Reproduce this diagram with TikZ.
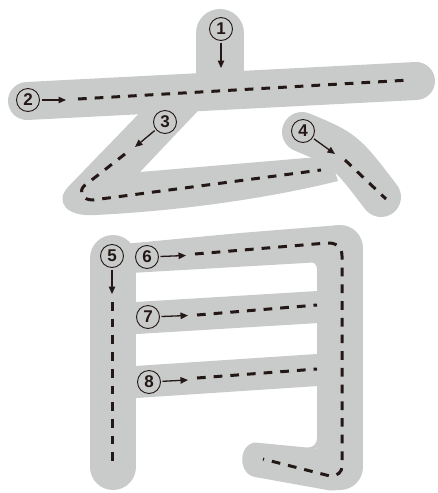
\documentclass[tikz,border=0pt]{standalone}
\usepackage{fontspec}
\newfontfamily\numfont{Liberation Sans}
\usetikzlibrary{arrows.meta}
\definecolor{brushgray}{RGB}{201,202,202}
\definecolor{inkdark}{RGB}{35,24,21}
\begin{document}
\begin{tikzpicture}[x=1pt,y=-1pt,
  band/.style={draw=brushgray, line cap=round},
  flatband/.style={draw=brushgray, line cap=butt},
  guide/.style={draw=inkdark, line width=3pt, dash pattern=on 8.7pt off 8pt},
  numc/.style={circle, draw=inkdark, line width=0.9pt, minimum size=23pt, inner sep=0pt, outer sep=0pt,
    font=\numfont\bfseries\fontsize{17}{17}\selectfont, text=inkdark},
  arr/.style={draw=inkdark, line width=1.3pt, -{Triangle[length=7.5pt,width=6.5pt]}, shorten <=2pt}]
\useasboundingbox (0,0) rectangle (438,493);

% ---- gray brush strokes ----
% stroke 1
\draw[band, line width=48pt] (220,33) -- (220,75);
% stroke 2
\draw[band, line width=38pt] (27,101) -- (416,81);
% stroke 3
\fill[brushgray] (156,96) -- (212,96) -- (140,172) -- (330,156) -- (338,181)
  .. controls (270,198) and (180,211) .. (95,215)
  .. controls (65,217) and (55,201) .. (68,187) -- cycle;
% stroke 4
\draw[band, line width=40pt] (302,132) .. controls (345,150) .. (381,197);
% stroke 5
\draw[band, line width=46pt] (113,258) -- (113,467);
% stroke 6
\fill[brushgray] (113,245) -- (240,233) -- (340,225) -- (340,261) -- (113,274) -- cycle;
\draw[band, line width=46pt] (340,248) -- (340,467);
\fill[brushgray] (255,442.5) -- (317,448.5) -- (340,449) -- (340,490) -- (330,490.5) -- (255,477)
  .. controls (238,474) and (238,445) .. (255,442.5) -- cycle;
% inner fillets
\fill[brushgray] (309,261.5) .. controls (313.4,261.3) and (317,264.6) .. (317,269) -- (317,261) -- cycle;
\fill[brushgray] (307,447.5) .. controls (312.5,448) and (317,444) .. (317,438.5) -- (317,448.5) -- cycle;
% stroke 7
\draw[flatband, line width=32pt] (113,319.4) -- (340,305.7);
% stroke 8
\draw[flatband, line width=32pt] (113,383.5) -- (340,368.5);

% ---- dashed guides ----
\draw[guide] (78,99) -- (410,80);
\draw[guide] (125,154) -- (84,186) .. controls (79,191) and (81,200) .. (93,200) -- (321,170);
\draw[guide] (345,160) -- (386,199);
\draw[guide] (112,302) -- (112,467);
\draw[guide] (195,254) -- (327,243) .. controls (335,242.5) and (342,246) .. (342,256)
  -- (342,466) .. controls (342,472) and (338,476) .. (330,476) -- (263,459);
\draw[guide] (197,315) -- (317,305);
\draw[guide] (197,378) -- (317,369);

% ---- numbers and arrows ----
\node[numc] (n1) at (221,29) {1};
\node[numc] (n2) at (28,100) {2};
\node[numc] (n3) at (165,122) {3};
\node[numc] (n4) at (303,131) {4};
\node[numc] (n5) at (112,256) {5};
\node[numc] (n6) at (147,257) {6};
\node[numc] (n7) at (148,317) {7};
\node[numc] (n8) at (149,382) {8};

\coordinate (e1) at (221,68);
\coordinate (e2) at (66,100);
\coordinate (e3) at (135,147);
\coordinate (e4) at (335,154);
\coordinate (e5) at (112,294);
\coordinate (e6) at (186,255.5);
\coordinate (e7) at (188,315.5);
\coordinate (e8) at (188,380);

\draw[arr] (n1) -- (e1);
\draw[arr] (n2) -- (e2);
\draw[arr] (n3) -- (e3);
\draw[arr] (n4) -- (e4);
\draw[arr] (n5) -- (e5);
\draw[arr] (n6) -- (e6);
\draw[arr] (n7) -- (e7);
\draw[arr] (n8) -- (e8);
\end{tikzpicture}
\end{document}
